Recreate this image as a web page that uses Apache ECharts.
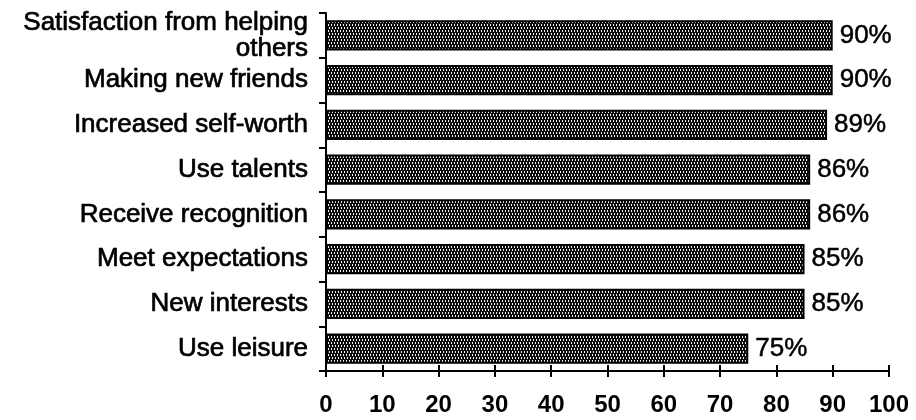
<!DOCTYPE html>
<html>
<head>
<meta charset="utf-8">
<script src="https://cdn.jsdelivr.net/npm/echarts@6/dist/echarts.min.js"></script>
<style>
  html, body { margin: 0; padding: 0; background: #fff; }
  #chart { width: 916px; height: 420px; }
</style>
</head>
<body>
<div id="chart"></div>
<script>
// Benefits of volunteering, percent of respondents
const categories = [
  'Satisfaction from helping\nothers',
  'Making new friends',
  'Increased self-worth',
  'Use talents',
  'Receive recognition',
  'Meet expectations',
  'New interests',
  'Use leisure'
];
const percents = [90, 90, 89, 86, 86, 85, 85, 75];
const xTicks = [0, 10, 20, 30, 40, 50, 60, 70, 80, 90, 100];

// Stippled fill: black ground with small white dots in a staggered grid
function stipple() {
  const c = document.createElement('canvas');
  c.width = 6; c.height = 6;
  const g = c.getContext('2d');
  g.fillStyle = '#0d0d0d';
  g.fillRect(0, 0, 6, 6);
  g.fillStyle = '#f2f2f2';
  g.fillRect(1, 0, 1, 2);
  g.fillRect(4, 0, 1, 2);
  g.fillRect(2, 3, 1, 2);
  g.fillRect(5, 3, 1, 2);
  return c;
}

const font = '"Liberation Sans", Arial, Helvetica, sans-serif';
const chart = echarts.init(document.getElementById('chart'), null, { renderer: 'canvas' });

chart.setOption({
  animation: false,
  grid: { left: 326, right: 27, top: 13, bottom: 49 },
  xAxis: [{
    type: 'value',
    min: xTicks[0],
    max: xTicks[xTicks.length - 1],
    interval: 10,
    axisLine: { show: true, lineStyle: { color: '#000', width: 2 } },
    axisTick: { show: true, length: 6, lineStyle: { color: '#000', width: 2 } },
    axisLabel: { color: '#000', fontSize: 24, fontWeight: 'bold', fontFamily: font, margin: 22 },
    splitLine: { show: false }
  }, {
    // upper half of the crossing tick marks
    type: 'value',
    position: 'bottom',
    min: xTicks[0],
    max: xTicks[xTicks.length - 1],
    interval: 10,
    axisLine: { show: false },
    axisTick: { show: true, inside: true, length: 6, lineStyle: { color: '#000', width: 2 } },
    axisLabel: { show: false },
    splitLine: { show: false }
  }],
  yAxis: {
    type: 'category',
    data: categories,
    inverse: true,
    axisLine: { show: true, lineStyle: { color: '#000', width: 2 } },
    axisTick: { show: true, length: 7, lineStyle: { color: '#000', width: 2 } },
    axisLabel: {
      color: '#000', fontSize: 26, fontFamily: font, margin: 18,
      lineHeight: 26, align: 'right',
      textBorderColor: '#000', textBorderWidth: 0.7
    }
  },
  series: [{
    type: 'bar',
    data: percents,
    barCategoryGap: '32%',
    itemStyle: {
      color: { image: stipple(), repeat: 'repeat' },
      borderColor: '#000',
      borderWidth: 2
    },
    label: {
      show: true,
      position: 'right',
      distance: 7,
      formatter: '{c}%',
      color: '#000',
      fontSize: 26,
      fontFamily: font,
      textBorderColor: '#000',
      textBorderWidth: 0.5
    }
  }]
});
</script>
</body>
</html>
